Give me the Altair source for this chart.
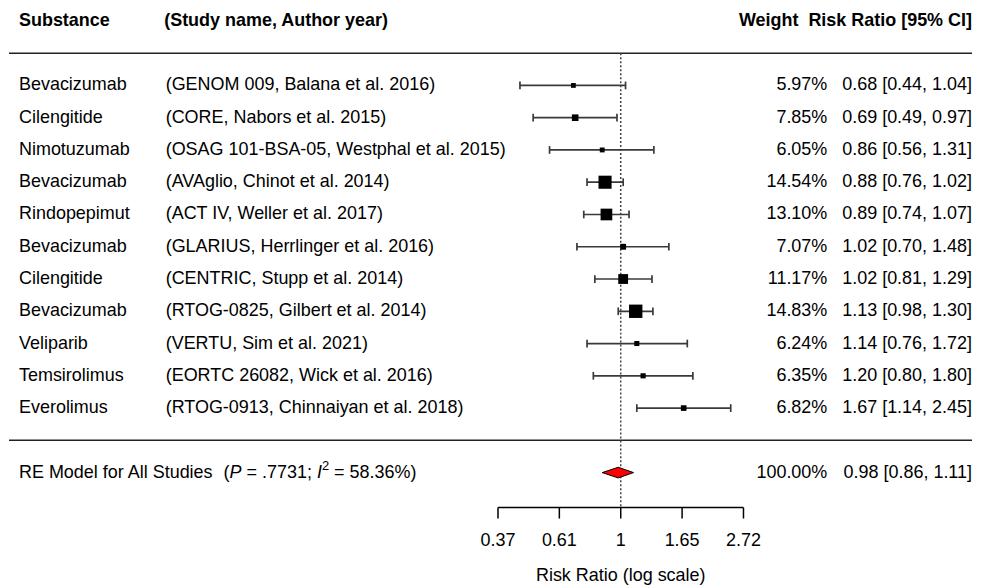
import altair as alt
import pandas as pd

# ---------------- data ----------------
substance = ["Bevacizumab", "Cilengitide", "Nimotuzumab", "Bevacizumab", "Rindopepimut",
             "Bevacizumab", "Cilengitide", "Bevacizumab", "Veliparib", "Temsirolimus", "Everolimus"]
study = ["(GENOM 009, Balana et al. 2016)", "(CORE, Nabors et al. 2015)",
         "(OSAG 101-BSA-05, Westphal et al. 2015)", "(AVAglio, Chinot et al. 2014)",
         "(ACT IV, Weller et al. 2017)", "(GLARIUS, Herrlinger et al. 2016)",
         "(CENTRIC, Stupp et al. 2014)", "(RTOG-0825, Gilbert et al. 2014)",
         "(VERTU, Sim et al. 2021)", "(EORTC 26082, Wick et al. 2016)",
         "(RTOG-0913, Chinnaiyan et al. 2018)"]
weight = [5.97, 7.85, 6.05, 14.54, 13.10, 7.07, 11.17, 14.83, 6.24, 6.35, 6.82]
rr = [0.68, 0.69, 0.86, 0.88, 0.89, 1.02, 1.02, 1.13, 1.14, 1.20, 1.67]
lower = [0.44, 0.49, 0.56, 0.76, 0.74, 0.70, 0.81, 0.98, 0.76, 0.80, 1.14]
upper = [1.04, 0.97, 1.31, 1.02, 1.07, 1.48, 1.29, 1.30, 1.72, 1.80, 2.45]

summary_rr = [0.98]
summary_lower = [0.86]
summary_upper = [1.11]
summary_weight = [100.00]

tick_values = [0.3679, 0.6065, 1.0, 1.6487, 2.7183]
tick_labels = ["0.37", "0.61", "1", "1.65", "2.72"]
axis_title = "Risk Ratio (log scale)"

# ---------------- tables ----------------
k = len(substance)
rows = pd.DataFrame({
    "row": list(range(k, 0, -1)),
    "substance": substance,
    "study": study,
    "weight": weight,
    "rr": rr,
    "lower": lower,
    "upper": upper,
})
rows["wlabel"] = [f"{w:.2f}%" for w in weight]
rows["cilabel"] = [f"{e:.2f} [{l:.2f}, {u:.2f}]" for e, l, u in zip(rr, lower, upper)]

summ = pd.DataFrame({
    "row": [-1],
    "wlabel": [f"{summary_weight[0]:.2f}%"],
    "cilabel": [f"{summary_rr[0]:.2f} [{summary_lower[0]:.2f}, {summary_upper[0]:.2f}]"],
})
diamond = pd.DataFrame({
    "x": [summary_lower[0], summary_rr[0], summary_upper[0]],
    "k": [0, 1, 0],
    "row": [-1, -1, -1],
})
header = pd.DataFrame({"row": [k + 2]})
axis_df = pd.DataFrame({"v": tick_values, "lab": tick_labels})

# ---------------- style / layout ----------------
FONT = "Liberation Sans"
FS = 18
W, H = 965, 500
RIGHT = 965
AXIS_Y = 500
wmin, wmax = min(weight), max(weight)

xscale = alt.Scale(type="log", domain=[tick_values[0], tick_values[-1]], range=[490, 736], nice=False)
yscale = alt.Scale(domain=[k + 2, -1], range=[12.33, 464.96], nice=False, zero=False)
Y = alt.Y("row:Q", scale=yscale, axis=None)


def text_layer(df, field=None, x=0, align="left", weight_="normal", style="normal",
               size=FS, dy=0, text=None):
    kw = dict(align=align, baseline="middle", font=FONT, fontSize=size,
              fontWeight=weight_, fontStyle=style, color="black", dy=dy)
    if text is not None:
        kw["text"] = text
    enc = dict(x=alt.value(x), y=Y)
    if field is not None:
        enc["text"] = alt.Text(f"{field}:N")
    return alt.Chart(df).mark_text(**kw).encode(**enc)


# separator lines
line_top = alt.Chart(header).mark_rule(color="#222", strokeWidth=1.5).encode(
    x=alt.value(0), x2=alt.value(W), y=alt.value(44.7))
line_bot = alt.Chart(header).mark_rule(color="#222", strokeWidth=1.5).encode(
    x=alt.value(0), x2=alt.value(W), y=alt.value(432.6))

# reference dotted line at RR = 1
refline = alt.Chart(header).mark_rule(color="#444", strokeWidth=1.5, strokeDash=[2, 2]).encode(
    x=alt.X(datum=1, scale=xscale, axis=None), y=alt.value(44.7), y2=alt.value(AXIS_Y))

whisk = alt.Chart(rows).mark_rule(color="#3a3a3a", strokeWidth=1.7).encode(
    x=alt.X("lower:Q", scale=xscale, axis=None), x2="upper:Q", y=Y)

caps = alt.Chart(rows).transform_fold(["lower", "upper"], as_=["end", "cx"]).transform_calculate(
    ylo="datum.row - 0.12", yhi="datum.row + 0.12"
).mark_rule(color="#3a3a3a", strokeWidth=1.7).encode(
    x=alt.X("cx:Q", scale=xscale, axis=None),
    y=alt.Y("ylo:Q", scale=yscale, axis=None), y2="yhi:Q")

squares = alt.Chart(rows).transform_calculate(
    side=f"4.8 + (datum.weight - {wmin}) / ({wmax} - {wmin}) * 8.6"
).transform_calculate(area="datum.side * datum.side").mark_square(
    filled=True, color="black", opacity=1
).encode(
    x=alt.X("rr:Q", scale=xscale, axis=None),
    y=Y,
    size=alt.Size("area:Q", scale=None, legend=None),
)

diam = alt.Chart(diamond).transform_calculate(
    ytop="datum.row + 0.165 * datum.k", ybot="datum.row - 0.165 * datum.k"
).mark_area(color="red", fill="red", stroke="black", strokeWidth=1, opacity=1).encode(
    x=alt.X("x:Q", scale=xscale, axis=None),
    y=alt.Y("ytop:Q", scale=yscale, axis=None), y2="ybot:Q")

# ---- x axis drawn from the tick arrays through the x scale ----
axis_domain = alt.Chart(axis_df).transform_aggregate(lo="min(v)", hi="max(v)").mark_rule(
    color="black", strokeWidth=1.5
).encode(x=alt.X("lo:Q", scale=xscale, axis=None), x2="hi:Q", y=alt.value(AXIS_Y))

axis_ticks = alt.Chart(axis_df).mark_rule(color="black", strokeWidth=1.5).encode(
    x=alt.X("v:Q", scale=xscale, axis=None), y=alt.value(AXIS_Y), y2=alt.value(AXIS_Y + 11))

axis_labels = alt.Chart(axis_df).mark_text(
    font=FONT, fontSize=FS, color="black", baseline="middle", align="center"
).encode(x=alt.X("v:Q", scale=xscale, axis=None), y=alt.value(AXIS_Y + 34), text="lab:N")

axis_title_layer = alt.Chart(header).mark_text(
    font=FONT, fontSize=FS, color="black", baseline="middle", align="center", text=axis_title
).encode(x=alt.X(datum=1, scale=xscale, axis=None), y=alt.value(AXIS_Y + 69))

layers = [line_top, line_bot, refline, whisk, caps, squares, diam,
          axis_domain, axis_ticks, axis_labels, axis_title_layer,
          # header
          text_layer(header, x=10, weight_="bold", text="Substance"),
          text_layer(header, x=155.5, weight_="bold", text="(Study name, Author year)"),
          text_layer(header, x=RIGHT, align="right", weight_="bold",
                     text="Weight\u00a0\u00a0Risk Ratio [95% CI]"),
          # study rows
          text_layer(rows, "substance", x=10),
          text_layer(rows, "study", x=157),
          text_layer(rows, "wlabel", x=820, align="right"),
          text_layer(rows, "cilabel", x=RIGHT, align="right"),
          # summary row
          text_layer(summ, x=10, text="RE Model for All Studies"),
          text_layer(summ, x=215, text="("),
          text_layer(summ, x=221, style="italic", text="P"),
          text_layer(summ, x=238, text="= .7731;"),
          text_layer(summ, x=308.6, style="italic", text="I"),
          text_layer(summ, x=313.6, size=13, dy=-7, text="2"),
          text_layer(summ, x=325.8, text="= 58.36%)"),
          text_layer(summ, "wlabel", x=820, align="right"),
          text_layer(summ, "cilabel", x=RIGHT, align="right"),
          ]

chart = alt.layer(*layers).properties(
    width=W, height=H,
    padding=0,
    background="white",
).configure_view(stroke=None)

chart.save("out.html", embed_options={"renderer": "svg", "actions": False})
